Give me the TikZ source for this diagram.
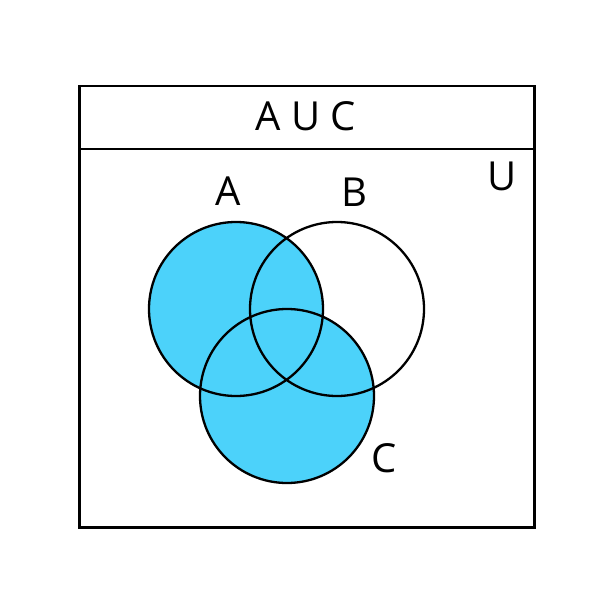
\documentclass[tikz,border=0pt]{standalone}
\usepackage{fontspec}
\setmainfont{Open Sans}
\definecolor{venn}{RGB}{76,210,250}
\begin{document}
\begin{tikzpicture}[x=1pt,y=-1pt,
  circ/.style={circle,draw=black,line width=2.3pt,minimum size=174pt,inner sep=0pt},
  lbl/.style={font=\fontsize{40}{40}\selectfont,inner sep=0pt},
  frame/.style={draw=black,line width=2.5pt}]
\useasboundingbox (0,0) rectangle (612,612);
% fills
\fill[venn] (236,309) circle (87);
\fill[venn] (287,396) circle (87);
\node[circ] (A) at (236,309) {};
\node[circ] (B) at (337,309) {};
\node[circ] (C) at (287,396) {};
\node[frame,minimum width=455pt,minimum height=441pt,inner sep=0pt,anchor=north west] (U) at (78,85) {};
\node[frame,minimum width=455pt,minimum height=63pt,inner sep=0pt,anchor=north west] (H) at (78,85) {};
\node[lbl] (t) at (306,116) {A U C};
\node[lbl] (la) at (228,191) {A};
\node[lbl] (lb) at (354,192) {B};
\node[lbl] (lc) at (384,458) {C};
\node[lbl] (lu) at (502,176) {U};
\end{tikzpicture}
\end{document}
